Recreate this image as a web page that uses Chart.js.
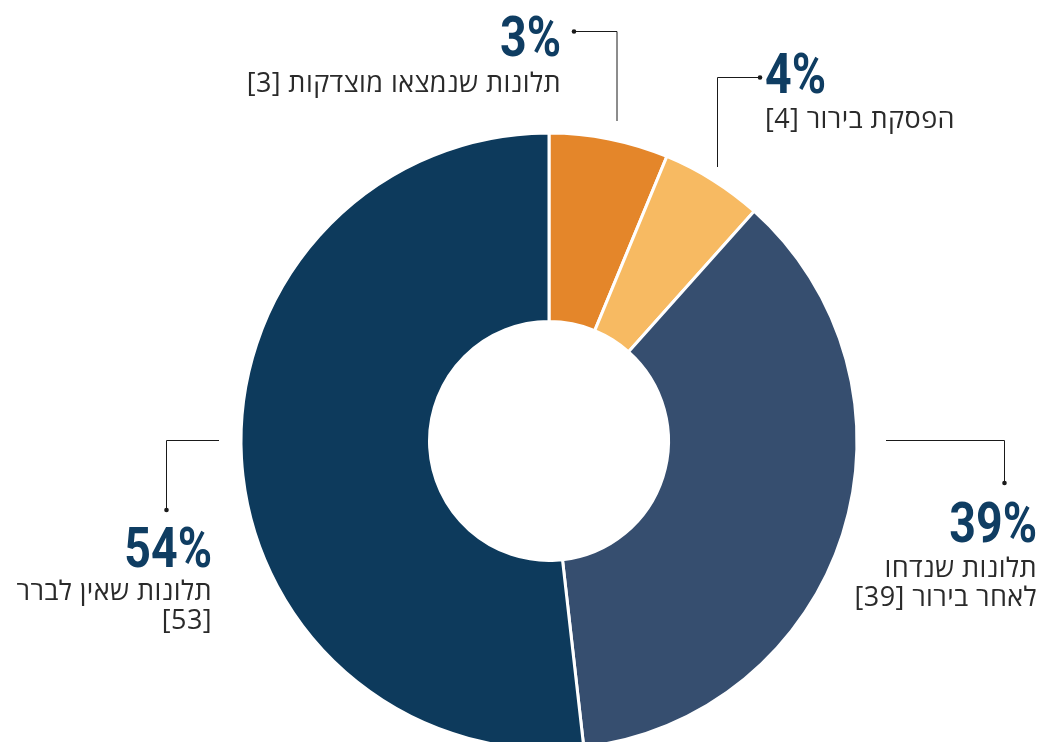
<!DOCTYPE html>
<html lang="he">
<head>
<meta charset="utf-8">
<script src="https://cdn.jsdelivr.net/npm/chart.js@4/dist/chart.umd.min.js"></script>
<style>
  html, body { margin: 0; padding: 0; background: #fff; overflow: hidden; }
  #wrap { position: relative; width: 1042px; height: 800px; }
</style>
</head>
<body>
<div id="wrap"><canvas id="c" width="1042" height="800"></canvas></div>
<script>
// ---- data ----
const categories = ['תלונות שנמצאו מוצדקות', 'הפסקת בירור', 'תלונות שנדחו לאחר בירור', 'תלונות שאין לברר'];
const sliceValues = [6.25, 5.35, 36.6, 51.8];         // slice sizes as drawn
const percentLabels = ['3%', '4%', '39%', '54%'];     // printed percentages
const countLabels = ['3', '4', '39', '53'];           // printed counts
const labelLines = [
  ['תלונות שנמצאו מוצדקות [3]'],
  ['הפסקת בירור [4]'],
  ['תלונות שנדחו', 'לאחר בירור [39]'],
  ['תלונות שאין לברר', '[53]']
];
const colors = ['#E4862A', '#F7BA62', '#364E6F', '#0D3A5C'];

// ---- annotation layout (positions only) ----
const annot = [
  { line: [[617,121],[617,31.5],[574,31.5]], align: 'right', x: 561, pctY: 56, lineY: [92] },
  { line: [[717.5,167],[717.5,77.5],[760,77.5]], align: 'left', x: 765, pctY: 93, lineY: [128] },
  { line: [[886,440.5],[1004.5,440.5],[1004.5,483]], align: 'right', x: 1037, pctY: 542, lineY: [577, 606] },
  { line: [[219,440.5],[166.5,440.5],[166.5,510]], align: 'right', x: 212, pctY: 567, lineY: [600, 629] }
];

const labelPlugin = {
  id: 'labelPlugin',
  afterDraw(chart) {
    const ctx = chart.ctx;
    annot.forEach((a, i) => {
      ctx.save();
      // leader line
      ctx.strokeStyle = '#1a1a1a';
      ctx.lineWidth = 1;
      ctx.beginPath();
      a.line.forEach((p, k) => k ? ctx.lineTo(p[0], p[1]) : ctx.moveTo(p[0], p[1]));
      ctx.stroke();
      const end = a.line[a.line.length - 1];
      ctx.fillStyle = '#1a1a1a';
      ctx.beginPath();
      ctx.arc(end[0], end[1], 2.3, 0, Math.PI * 2);
      ctx.fill();
      ctx.restore();

      // percentage (condensed bold)
      ctx.save();
      ctx.direction = 'ltr';
      ctx.fillStyle = '#0F3D62';
      ctx.font = 'bold 56px Roboto, "DejaVu Sans", sans-serif';
      ctx.textBaseline = 'alphabetic';
      ctx.textAlign = a.align;
      ctx.translate(a.x, a.pctY);
      ctx.scale(0.83, 1);
      ctx.fillText(percentLabels[i], 0, 0);
      ctx.restore();

      // description lines
      ctx.save();
      ctx.direction = 'rtl';
      ctx.fillStyle = '#2a2a2a';
      ctx.font = '27px "Open Sans", "Noto Sans", "DejaVu Sans", sans-serif';
      if ('letterSpacing' in ctx) ctx.letterSpacing = '0.4px';
      ctx.textBaseline = 'alphabetic';
      ctx.textAlign = a.align;
      labelLines[i].forEach((t, k) => ctx.fillText(t, a.x, a.lineY[k]));
      ctx.restore();
    });
  }
};

new Chart(document.getElementById('c'), {
  type: 'doughnut',
  data: {
    labels: categories,
    datasets: [{
      data: sliceValues,
      backgroundColor: colors,
      borderColor: '#ffffff',
      borderWidth: 3,
      hoverOffset: 0
    }]
  },
  options: {
    responsive: false,
    animation: false,
    cutout: '38.8%',
    layout: { padding: { left: 239.5, right: 183.5, top: 131.5, bottom: 49.5 } },
    plugins: { legend: { display: false }, tooltip: { enabled: false } }
  },
  plugins: [labelPlugin]
});
</script>
</body>
</html>
